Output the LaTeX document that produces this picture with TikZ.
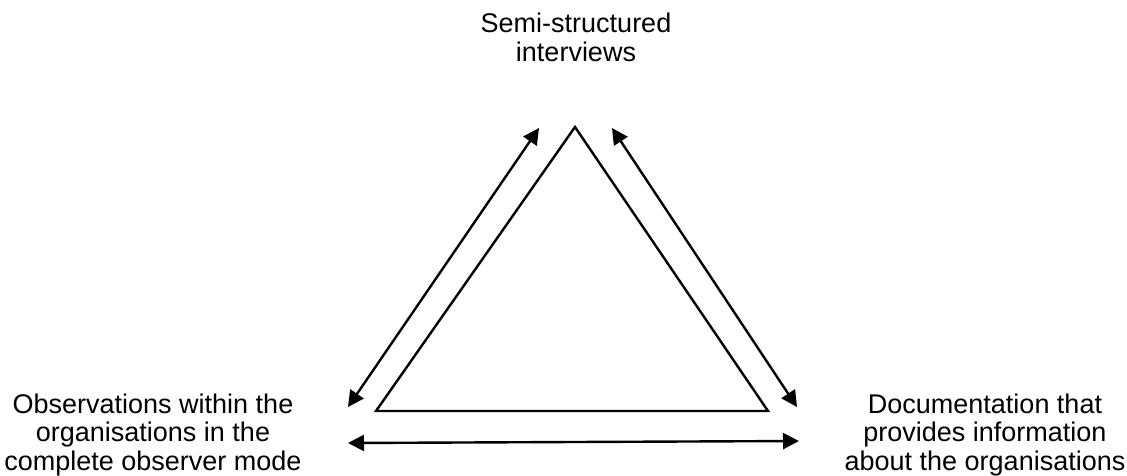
\documentclass[tikz,border=0pt]{standalone}
\usepackage{fontspec}
\setmainfont{Liberation Sans}
\usetikzlibrary{arrows.meta, positioning, calc}

\tikzset{
    source/.style={align=center, font=\fontsize{27}{28.5}\selectfont, inner sep=0pt},
    link/.style={line width=2.4pt, {Triangle[length=16pt,width=16pt]}-{Triangle[length=16pt,width=16pt]}},
    edge/.style={line width=2.4pt, line join=miter}
}

\begin{document}
\begin{tikzpicture}[x=1pt, y=-1pt]
        \useasboundingbox (0,0) rectangle (1127,475);

        % Data sources (base = last line)
        \node[source, anchor=base] (interviews) at (576,61) {Semi-structured\\interviews};
        \node[source, anchor=base] (observations) at (153,470) {Observations within the\\organisations in the\\complete observer mode};
        \node[source, anchor=base] (documents) at (985,470) {Documentation that\\provides information\\about the organisations};

        % Triangle
        \coordinate (apex) at (575,127);
        \coordinate (left) at (376,411);
        \coordinate (right) at (768,411);
        \draw[edge] (apex) -- (right) -- (left) -- cycle;

        % Arrow ends
        \coordinate (a1) at (348,407);
        \coordinate (a2) at (539,128);
        \coordinate (b1) at (612,128);
        \coordinate (b2) at (797,407);
        \coordinate (c1) at (348,443);
        \coordinate (c2) at (799,441);

        \draw[link] (a1) -- (a2);
        \draw[link] (b1) -- (b2);
        \draw[link] (c1) -- (c2);
    \end{tikzpicture}
\end{document}
